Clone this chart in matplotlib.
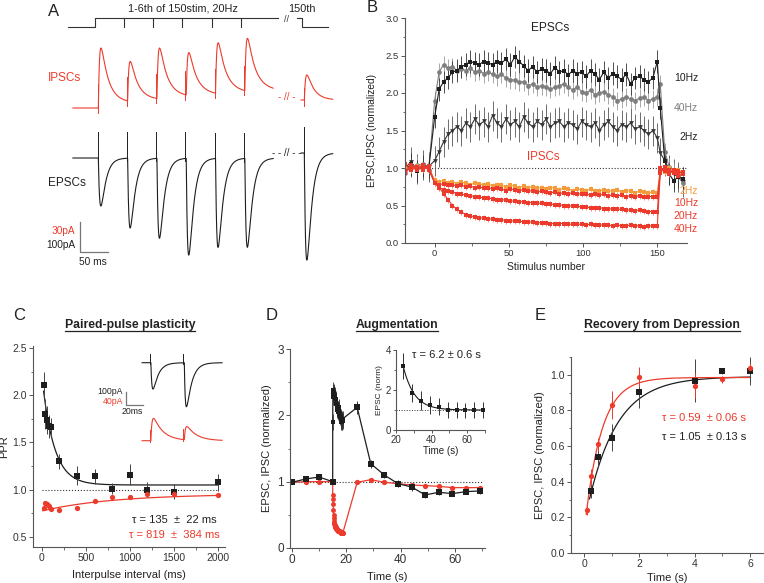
import numpy as np
import matplotlib.pyplot as plt
from matplotlib.lines import Line2D
from matplotlib.ticker import MultipleLocator

plt.rcParams['font.family'] = ['Liberation Sans', 'DejaVu Sans']
plt.rcParams['axes.linewidth'] = 0.8

W, H = 764, 583

RED = '#ec3b2c'
RED_ERR = '#f3806f'
ORANGE = '#f39c3e'
ORANGE_ERR = '#f7bb7a'
BLACK = '#1e1e1e'
GRAY = '#7e7e7e'
DARK = '#363636'
AXC = '#555555'
TXT = '#222222'

# ---------------- A: example traces (amplitudes in pA) ----------------
a_stim_ms = [0, 50, 100, 150, 200, 250]
a_epsc_amp = [160, 233, 267, 323, 297, 297]
a_ipsc_amp = [60, 40, 51, 43, 51, 53]
a_epsc_150th = 357
a_ipsc_150th = 25

# ---------------- B: normalized amplitudes vs stimulus number ----------------
stim_pre = [-20, -16, -12, -8, -4]
stim_train = list(range(0, 151, 3))
stim_post = [152, 155, 158, 161, 164, 167]
stim_n = stim_pre + stim_train + stim_post

epsc_10hz = [0.97, 1.05, 0.96, 1.03, 1.00,
             1.68, 2.05, 2.15, 2.20, 2.28, 2.30, 2.35, 2.38, 2.42, 2.40,
             2.38, 2.42, 2.40, 2.38, 2.42, 2.40, 2.45, 2.38, 2.48, 2.42,
             2.36, 2.30, 2.35, 2.28, 2.32, 2.30, 2.26, 2.34, 2.28, 2.30,
             2.24, 2.30, 2.26, 2.28, 2.22, 2.30, 2.25, 2.18, 2.28, 2.20,
             2.26, 2.22, 2.18, 2.25, 2.12, 2.20, 2.22, 2.18, 2.15, 2.20,
             2.42,
             1.80, 1.10, 0.92, 0.83, 0.88, 0.86]
epsc_40hz = [0.93, 1.02, 1.04, 1.05, 0.98,
             1.90, 2.28, 2.38, 2.33, 2.35, 2.30, 2.32, 2.30, 2.33, 2.28,
             2.30, 2.26, 2.28, 2.25, 2.22, 2.25, 2.20, 2.18, 2.17, 2.15,
             2.15, 2.10, 2.12, 2.08, 2.10, 2.08, 2.05, 2.08, 2.10, 2.12,
             2.08, 2.04, 2.08, 2.02, 2.00, 2.04, 1.98, 2.00, 2.02, 1.98,
             1.95, 1.90, 1.92, 1.95, 1.92, 1.90, 1.93, 1.95, 1.90, 1.92,
             1.95,
             2.12, 1.22, 1.02, 0.95, 0.90, 0.80]
epsc_2hz = [1.00, 1.08, 0.99, 1.04, 1.02,
            1.10, 1.22, 1.35, 1.45, 1.50, 1.55, 1.50, 1.60, 1.55, 1.65,
            1.58, 1.62, 1.55, 1.70, 1.60, 1.55, 1.65, 1.58, 1.62, 1.55,
            1.68, 1.60, 1.55, 1.62, 1.58, 1.65, 1.55, 1.60, 1.62, 1.55,
            1.60, 1.58, 1.52, 1.62, 1.58, 1.55, 1.60, 1.50, 1.58, 1.62,
            1.55, 1.50, 1.58, 1.55, 1.60, 1.52, 1.55, 1.50, 1.45, 1.50,
            1.40,
            1.20, 1.10, 0.98, 0.92, 0.88, 0.82]
ipsc_2hz = [1.02, 0.98, 1.03, 0.99, 1.00,
            0.84, 0.82, 0.83, 0.80, 0.82, 0.79, 0.81, 0.80, 0.78, 0.80,
            0.79, 0.77, 0.79, 0.76, 0.78, 0.77, 0.75, 0.77, 0.76, 0.74,
            0.76, 0.74, 0.75, 0.73, 0.74, 0.72, 0.74, 0.73, 0.71, 0.73,
            0.72, 0.70, 0.72, 0.71, 0.70, 0.72, 0.70, 0.69, 0.71, 0.70,
            0.69, 0.71, 0.68, 0.70, 0.69, 0.67, 0.69, 0.68, 0.67, 0.68,
            0.67,
            0.98, 0.95, 1.00, 0.96, 0.98, 0.94]
ipsc_10hz = [0.95, 1.04, 0.99, 1.02, 0.98,
             0.80, 0.78, 0.79, 0.77, 0.78, 0.76, 0.77, 0.75, 0.76, 0.74,
             0.75, 0.73, 0.74, 0.72, 0.73, 0.72, 0.70, 0.72, 0.71, 0.70,
             0.71, 0.69, 0.70, 0.68, 0.69, 0.68, 0.67, 0.68, 0.66, 0.67,
             0.66, 0.67, 0.65, 0.66, 0.65, 0.64, 0.66, 0.64, 0.65, 0.63,
             0.64, 0.63, 0.64, 0.62, 0.63, 0.62, 0.63, 0.61, 0.62, 0.62,
             0.62,
             0.95, 1.00, 0.97, 0.93, 0.96, 0.92]
ipsc_20hz = [1.05, 0.97, 1.01, 0.98, 1.03,
             0.80, 0.74, 0.71, 0.69, 0.68, 0.66, 0.65, 0.64, 0.63, 0.62,
             0.61, 0.60, 0.60, 0.59, 0.58, 0.58, 0.57, 0.56, 0.56, 0.55,
             0.55, 0.54, 0.54, 0.53, 0.53, 0.52, 0.52, 0.51, 0.51, 0.50,
             0.50, 0.49, 0.49, 0.48, 0.48, 0.47, 0.47, 0.47, 0.46, 0.46,
             0.45, 0.45, 0.45, 0.44, 0.44, 0.43, 0.44, 0.43, 0.42, 0.42,
             0.41,
             1.00, 0.96, 0.92, 0.98, 0.94, 0.95]
ipsc_40hz = [0.93, 1.02, 0.98, 1.04, 0.99,
             0.80, 0.74, 0.66, 0.58, 0.50, 0.45, 0.41, 0.38, 0.36, 0.35,
             0.34, 0.33, 0.32, 0.32, 0.31, 0.31, 0.30, 0.30, 0.29, 0.29,
             0.28, 0.28, 0.28, 0.27, 0.27, 0.27, 0.26, 0.26, 0.26, 0.26,
             0.25, 0.25, 0.25, 0.25, 0.24, 0.25, 0.24, 0.24, 0.24, 0.24,
             0.23, 0.24, 0.23, 0.23, 0.24, 0.23, 0.23, 0.22, 0.23, 0.23,
             0.23,
             0.93, 1.02, 0.97, 0.95, 0.90, 0.93]
err_epsc_10hz, err_epsc_40hz, err_epsc_2hz = 0.15, 0.12, 0.20
err_ipsc = 0.04

# ---------------- C: paired-pulse ratio ----------------
ppi_ms = [20, 40, 60, 80, 100, 200, 400, 600, 800, 1000, 1200, 1500, 2000]
ppr_epsc = [2.11, 1.80, 1.74, 1.67, 1.66, 1.30, 1.15, 1.14, 1.01, 1.16, 1.00, 0.98, 1.08]
ppr_epsc_err = [0.14, 0.16, 0.15, 0.12, 0.10, 0.08, 0.10, 0.08, 0.06, 0.11, 0.08, 0.08, 0.09]
ppr_ipsc = [0.81, 0.86, 0.85, 0.83, 0.80, 0.79, 0.81, 0.88, 0.92, 0.92, 0.95, 0.95, 0.94]
ppr_ipsc_err = [0.02, 0.02, 0.02, 0.02, 0.02, 0.015, 0.015, 0.015, 0.02, 0.015, 0.02, 0.03, 0.015]
ppr_fit_epsc = (1.05, 1.15, 135)   # offset, amplitude, tau (ms)
ppr_fit_ipsc = (0.955, -0.18, 819)
ci_stim_ms = [0, 38]
ci_epsc_amp = [198, 331]
ci_ipsc_amp = [67, 40]

# ---------------- D: augmentation ----------------
d_pre_t = [0, 5, 10, 15]
d_post_t = [24, 29, 34, 39, 44, 49, 54, 59, 64, 69]
d_epsc_pre = [0.99, 1.04, 1.07, 1.00]
d_epsc_post = [2.12, 1.27, 1.10, 0.97, 0.92, 0.80, 0.84, 0.82, 0.85, 0.86]
d_epsc_post_err = [0.10, 0.06, 0.05, 0.05, 0.06, 0.04, 0.04, 0.04, 0.04, 0.04]
d_ipsc_pre = [0.99, 1.00, 1.00, 1.00]
d_ipsc_post = [0.99, 1.03, 0.99, 0.97, 0.95, 0.94, 0.93, 0.91, 0.91, 0.91]
d_train_start_s = 15
d_train_rate_hz = 40
inset_epsc = [3.20, 1.83, 1.47, 1.25, 1.17, 1.00, 1.00, 0.98, 1.00, 1.00]
inset_err = [0.67, 0.45, 0.48, 0.45, 0.42, 0.38, 0.38, 0.38, 0.38, 0.38]
inset_fit = (1.0, 2.2, 6.2)

# ---------------- E: recovery from depression ----------------
rec_t_epsc = [0.27, 0.5, 1, 2, 4, 5, 6]
rec_epsc = [0.35, 0.54, 0.647, 0.906, 0.968, 1.02, 1.022]
rec_epsc_err = [0.04, 0.06, 0.075, 0.09, 0.12, 0.015, 0.08]
rec_t_ipsc = [0.1, 0.27, 0.5, 1, 2, 4, 5, 6]
rec_ipsc = [0.244, 0.43, 0.61, 0.83, 0.987, 0.94, 0.975, 1.04]
rec_ipsc_err = [0.03, 0.04, 0.035, 0.08, 0.055, 0.07, 0.02, 0.025]
rec_fit_epsc = (0.99, -0.83, 1.05)
rec_fit_ipsc = (0.985, -0.88, 0.59)


fig = plt.figure(figsize=(W / 100, H / 100), dpi=100)


def px_axes(x0, y0, x1, y1):
    ax = fig.add_axes([x0 / W, 1 - y1 / H, (x1 - x0) / W, (y1 - y0) / H])
    ax.set_facecolor('none')
    for s in ['top', 'right']:
        ax.spines[s].set_visible(False)
    for s in ['left', 'bottom']:
        ax.spines[s].set_color(AXC)
    return ax


def style(ax, fs, xmaj, xmin, ymaj, ymin):
    ax.xaxis.set_major_locator(MultipleLocator(xmaj))
    ax.xaxis.set_minor_locator(MultipleLocator(xmin))
    ax.yaxis.set_major_locator(MultipleLocator(ymaj))
    ax.yaxis.set_minor_locator(MultipleLocator(ymin))
    ax.tick_params(direction='out', length=3, width=0.7, labelsize=fs,
                   colors=AXC, labelcolor='#333333', pad=1.5)
    ax.tick_params(which='minor', direction='out', length=1.8, width=0.6, colors=AXC)


def expfit(x, p):
    return p[0] + p[1] * np.exp(-np.asarray(x) / p[2])


def psc_raw(s, tr, td, slow, ts):
    k = np.zeros_like(s)
    m = s > 0
    k[m] = (1 - slow) * (np.exp(-s[m] / td) - np.exp(-s[m] / tr)) \
        + slow * (np.exp(-s[m] / ts) - np.exp(-s[m] / tr))
    return k


def psc(t, onsets, amps, tr, td, slow=0.0, ts=250.0, delay=1.5):
    tt = np.linspace(0, 400, 40001)
    norm = psc_raw(tt, tr, td, slow, ts).max()
    out = np.zeros_like(t)
    for t0, a in zip(onsets, amps):
        out += a * psc_raw(t - t0 - delay, tr, td, slow, ts) / norm
    return out


# ================= B =================
axB = px_axes(405, 18, 687, 243)
axB.set_xlim(-20, 170)
axB.set_ylim(0, 3.0)
style(axB, 6.8, 50, 25, 0.5, 0.25)
axB.axhline(1.0, ls=':', lw=0.8, color='#333333', zorder=1)
for y, c, ec, m, e in [(epsc_2hz, DARK, '#555555', 'v', err_epsc_2hz),
                       (epsc_40hz, GRAY, '#9a9a9a', 'o', err_epsc_40hz),
                       (epsc_10hz, BLACK, '#333333', 's', err_epsc_10hz)]:
    axB.errorbar(stim_n, y, yerr=e, fmt='-' + m, color=c, ecolor=ec, ms=3.4,
                 mew=0, lw=0.8, elinewidth=0.6, capsize=1.6, capthick=0.6)
for y, c, ec in [(ipsc_2hz, ORANGE, ORANGE_ERR), (ipsc_10hz, RED, RED_ERR),
                 (ipsc_20hz, RED, RED_ERR), (ipsc_40hz, RED, RED_ERR)]:
    axB.errorbar(stim_n, y, yerr=err_ipsc, fmt='-s', color=c, ecolor=ec, ms=3.4,
                 mew=0, lw=0.8, elinewidth=0.6, capsize=1.6, capthick=0.6)
axB.set_xlabel('Stimulus number', fontsize=7.5, color=TXT, labelpad=3)
axB.set_ylabel('EPSC,IPSC (normalized)', fontsize=7.3, color=TXT, labelpad=6)

# ================= C =================
axC = px_axes(33, 346, 225, 547)
axC.set_xlim(-100, 2080)
axC.set_ylim(0.394, 2.52)
style(axC, 7.5, 500, 250, 0.5, 0.25)
axC.plot([0, 2000], [1, 1], ls=':', lw=0.8, color='#333333')
xf = np.linspace(20, 2000, 400)
axC.plot(xf, expfit(xf, ppr_fit_epsc), color=BLACK, lw=0.9)
xf = np.linspace(10, 2000, 400)
axC.plot(xf, expfit(xf, ppr_fit_ipsc), color=RED, lw=0.9)
axC.errorbar(ppi_ms, ppr_epsc, yerr=ppr_epsc_err, fmt='s', color=BLACK, ecolor='#444444',
             ms=3.8, mew=0, elinewidth=0.7, capsize=2, capthick=0.7)
axC.errorbar(ppi_ms, ppr_ipsc, yerr=ppr_ipsc_err, fmt='o', color=RED, ecolor=RED,
             ms=3.8, mew=0, elinewidth=0.7, capsize=2, capthick=0.7)
axC.set_xlabel('Interpulse interval (ms)', fontsize=8, color=TXT, labelpad=5)
axC.set_ylabel('PPR', fontsize=8, color=TXT, labelpad=2)

# ================= D =================
axD = px_axes(290, 349, 485, 548)
axD.set_xlim(-0.7, 71)
axD.set_ylim(0, 3)
style(axD, 8.5, 20, 10, 1, 0.5)
axD.plot([0, 70], [1, 1], ls=':', lw=0.8, color='#333333')
n_pre = len(stim_pre)
n_tr = len(stim_train)
train_t = [d_train_start_s + n / d_train_rate_hz for n in stim_train]
d_epsc_train = epsc_40hz[n_pre:n_pre + n_tr]
d_ipsc_train = ipsc_40hz[n_pre:n_pre + n_tr]
axD.plot(d_pre_t + train_t + d_post_t, d_ipsc_pre + d_ipsc_train + d_ipsc_post,
         '-', color=RED, lw=0.9)
axD.errorbar(train_t, d_ipsc_train, yerr=0.03, fmt='o', color=RED, ecolor=RED_ERR,
             ms=3.5, mew=0, elinewidth=0.6, capsize=1.2)
axD.errorbar(d_pre_t + d_post_t, d_ipsc_pre + d_ipsc_post, yerr=0.02, fmt='o', color=RED,
             ecolor=RED, ms=3.8, mew=0, elinewidth=0.6, capsize=1.5)
axD.plot(d_pre_t + train_t + d_post_t, d_epsc_pre + d_epsc_train + d_epsc_post,
         '-', color=BLACK, lw=0.9)
axD.errorbar(train_t, d_epsc_train, yerr=err_epsc_40hz, fmt='s', color=BLACK,
             ecolor='#333333', ms=3.5, mew=0, elinewidth=0.6, capsize=1.2)
axD.errorbar(d_pre_t + d_post_t, d_epsc_pre + d_epsc_post,
             yerr=[0.03] * 4 + d_epsc_post_err, fmt='s', color=BLACK, ecolor='#333333',
             ms=3.8, mew=0, elinewidth=0.7, capsize=1.8, capthick=0.7)
axD.set_xlabel('Time (s)', fontsize=8, color=TXT, labelpad=4)
axD.set_ylabel('EPSC, IPSC (normalized)', fontsize=8, color=TXT, labelpad=4)

axI = px_axes(396, 350, 485, 430)
axI.set_xlim(20, 70)
axI.set_ylim(0, 4)
style(axI, 7, 20, 10, 2, 1)
axI.tick_params(length=2.5, pad=1)
axI.plot([20, 70], [1, 1], ls=':', lw=0.7, color='#333333')
xf = np.linspace(d_post_t[0], d_post_t[-1], 200)
axI.plot(xf, inset_fit[0] + inset_fit[1] * np.exp(-(xf - d_post_t[0]) / inset_fit[2]),
         color=BLACK, lw=0.8)
axI.errorbar(d_post_t, inset_epsc, yerr=inset_err, fmt='s', color=BLACK, ecolor='#333333',
             ms=2.5, mew=0, elinewidth=0.7, capsize=1.8, capthick=0.7)
axI.set_xlabel('Time (s)', fontsize=7, color=TXT, labelpad=1)
axI.set_ylabel('EPSC (norm)', fontsize=6, color=TXT, labelpad=2)

# ================= E =================
axE = px_axes(571, 357, 764, 553)
axE.set_xlim(-0.47, 6.5)
axE.set_ylim(0, 1.1)
style(axE, 7.5, 2, 1, 0.2, 0.1)
xf = np.linspace(0.2, 6, 300)
axE.plot(xf, expfit(xf, rec_fit_epsc), color=BLACK, lw=0.9)
xf = np.linspace(0.08, 6, 300)
axE.plot(xf, expfit(xf, rec_fit_ipsc), color=RED, lw=0.9)
axE.errorbar(rec_t_epsc, rec_epsc, yerr=rec_epsc_err, fmt='s', color=BLACK, ecolor='#444444',
             ms=3.8, mew=0, elinewidth=0.7, capsize=2, capthick=0.7)
axE.errorbar(rec_t_ipsc, rec_ipsc, yerr=rec_ipsc_err, fmt='o', color=RED, ecolor=RED,
             ms=3.8, mew=0, elinewidth=0.7, capsize=2, capthick=0.7)
axE.set_xlabel('Time (s)', fontsize=8, color=TXT, labelpad=3)
axE.set_ylabel('EPSC, IPSC (normalized)', fontsize=8, color=TXT, labelpad=4)

# ================= overlay (pixel coords): panel A, C inset, labels =================
ov = fig.add_axes([0, 0, 1, 1], zorder=10)
ov.set_xlim(0, W)
ov.set_ylim(H, 0)
ov.axis('off')

# panel A traces
a_x0, a_px_ms = 97.5, 0.586
e_base, i_base = 158, 108
e_px_pa, i_px_pa = 0.30, 1.0
t = np.arange(-42, 300, 0.2)
ipsc_tr = psc(t, a_stim_ms, a_ipsc_amp, 2.0, 12.0, slow=0.07, ts=250.0)
epsc_tr = psc(t, a_stim_ms, a_epsc_amp, 2.5, 8.0)
xs = a_x0 + t * a_px_ms
ov.plot(xs, i_base - ipsc_tr * i_px_pa, color=RED, lw=0.8)
ov.plot(xs, e_base + epsc_tr * e_px_pa, color=BLACK, lw=0.8)
for s in a_stim_ms:
    xa = a_x0 + s * a_px_ms
    yi = i_base - np.interp(s, t, ipsc_tr) * i_px_pa
    ye = e_base + np.interp(s, t, epsc_tr) * e_px_pa
    ov.plot([xa, xa], [yi + 5, yi - 24], color=RED, lw=0.7)
    ov.plot([xa, xa], [ye + 3, ye - 26], color=BLACK, lw=0.7)

# 150th response
x150, e_base150, i_base150 = 303.5, 153, 100
t2 = np.arange(-4, 50, 0.2)
ipsc_150 = psc(t2, [0], [a_ipsc_150th], 2.0, 12.0)
epsc_150 = psc(t2, [0], [a_epsc_150th], 2.5, 8.0)
ov.plot(x150 + t2 * a_px_ms, i_base150 - ipsc_150 * i_px_pa, color=RED, lw=0.8)
ov.plot(x150 + t2 * a_px_ms, e_base150 + epsc_150 * e_px_pa, color=BLACK, lw=0.8)
ov.plot([x150, x150], [i_base150 + 6, i_base150 - 12], color=RED, lw=0.7)
ov.plot([x150, x150], [e_base150 + 3, e_base150 - 26], color=BLACK, lw=0.7)
ov.text(287, i_base150 - 3, '- // -', color=RED, fontsize=7, ha='center', va='center')
ov.text(287, e_base150, '- - // - -', color=BLACK, fontsize=7, ha='center', va='center')

# stimulus protocol line
lag = 3
st_lo, st_hi = 27, 18.3
x_first = a_x0 - lag
ov.plot([68, x_first, x_first, 278], [st_lo, st_lo, st_hi, st_hi], color='#333333', lw=0.8)
for s in a_stim_ms[1:]:
    xa = a_x0 + s * a_px_ms - lag
    ov.plot([xa, xa], [st_hi, st_lo], color='#333333', lw=0.8)
ov.plot([297, x150 - 2, x150 - 2, 328], [st_hi, st_hi, st_lo, st_lo], color='#333333', lw=0.8)
ov.text(287, 19, '//', fontsize=6.5, ha='center', va='center', color='#333333')
ov.text(183, 8.5, '1-6th of 150stim, 20Hz', fontsize=7.8, ha='center', va='center', color=TXT)
ov.text(302, 8.5, '150th', fontsize=7.8, ha='center', va='center', color=TXT)
ov.text(48, 78, 'IPSCs', fontsize=8.5, color=RED, va='center')
ov.text(48, 183, 'EPSCs', fontsize=8.5, color=TXT, va='center')

# scale bar A
ov.plot([80, 80, 108], [221.5, 251.5, 251.5], color='#777777', lw=0.9)
ov.text(75, 231, '30pA', fontsize=7.3, color=RED, ha='right', va='center')
ov.text(75, 245.5, '100pA', fontsize=7.3, color=TXT, ha='right', va='center')
ov.text(79, 262, '50 ms', fontsize=7.3, color=TXT, ha='left', va='center')

# C inset traces
c_x0, c_px_ms = 150, 0.88
ce_base, ci_base = 362.7, 440.7
ce_px_pa, ci_px_pa = 0.133, 0.333
t3 = np.arange(-9, 82, 0.1)
ce = psc(t3, ci_stim_ms, ci_epsc_amp, 1.2, 6.0, delay=1.0)
cii = psc(t3, ci_stim_ms, ci_ipsc_amp, 1.2, 11.0, delay=1.0)
ov.plot(c_x0 + t3 * c_px_ms, ce_base + ce * ce_px_pa, color=BLACK, lw=0.8)
ov.plot(c_x0 + t3 * c_px_ms, ci_base - cii * ci_px_pa, color=RED, lw=0.8)
for s in ci_stim_ms:
    xa = c_x0 + s * c_px_ms
    ye = ce_base + np.interp(s, t3, ce) * ce_px_pa
    yi = ci_base - np.interp(s, t3, cii) * ci_px_pa
    ov.plot([xa, xa], [ye + 1, ye - 9], color=BLACK, lw=0.7)
    ov.plot([xa, xa], [yi + 1, yi - 11], color=RED, lw=0.7)
ov.plot([125.7, 125.7, 143.3], [391.5, 405, 405], color='#777777', lw=0.9)
ov.text(123, 392, '100pA', fontsize=6.3, color=TXT, ha='right', va='center')
ov.text(123, 401, '40pA', fontsize=6.3, color=RED, ha='right', va='center')
ov.text(132, 411, '20ms', fontsize=6.3, color=TXT, ha='center', va='center')

# B labels
ov.text(550, 28, 'EPSCs', fontsize=8.6, color=TXT, ha='center', va='center')
ov.text(543, 157, 'IPSCs', fontsize=8.3, color=RED, ha='center', va='center')
for lbl, yy, c in [('10Hz', 78, TXT), ('40Hz', 108, GRAY), ('2Hz', 137, TXT),
                   ('2Hz', 191.5, ORANGE), ('10Hz', 202.5, RED), ('20Hz', 216, RED),
                   ('40Hz', 229.5, RED)]:
    ov.text(698, yy, lbl, fontsize=7.5, color=c, ha='right', va='center')

# fit annotations
ov.text(132, 520, 'τ = 135  ±  22 ms', fontsize=8, color=TXT, va='center')
ov.text(129, 535, 'τ = 819  ±  384 ms', fontsize=8, color=RED, va='center')
ov.text(412, 355.5, 'τ = 6.2 ± 0.6 s', fontsize=8, color=TXT, va='center')
ov.text(662, 418, 'τ = 0.59  ± 0.06 s', fontsize=8, color=RED, va='center')
ov.text(662, 437, 'τ = 1.05  ± 0.13 s', fontsize=8, color=TXT, va='center')

# panel letters
for lbl, xx, yy in [('A', 54, 12), ('B', 372, 8), ('C', 19, 316), ('D', 272, 316),
                    ('E', 540, 316)]:
    ov.text(xx, yy, lbl, fontsize=12, color=TXT, ha='center', va='center')

# underlined titles
titles = []
for lbl, xx in [('Paired-pulse plasticity', 130), ('Augmentation', 397),
                ('Recovery from Depression', 662)]:
    titles.append(ov.text(xx, 325, lbl, fontsize=8.8, fontweight='bold', color=TXT,
                          ha='center', va='center'))
fig.canvas.draw()
for tx in titles:
    bb = tx.get_window_extent()
    yl = (bb.y0 + 0.5) / H
    fig.add_artist(Line2D([bb.x0 / W, bb.x1 / W], [yl, yl], color=TXT, lw=0.9,
                          transform=fig.transFigure))

fig.savefig('out.png', dpi=100)
